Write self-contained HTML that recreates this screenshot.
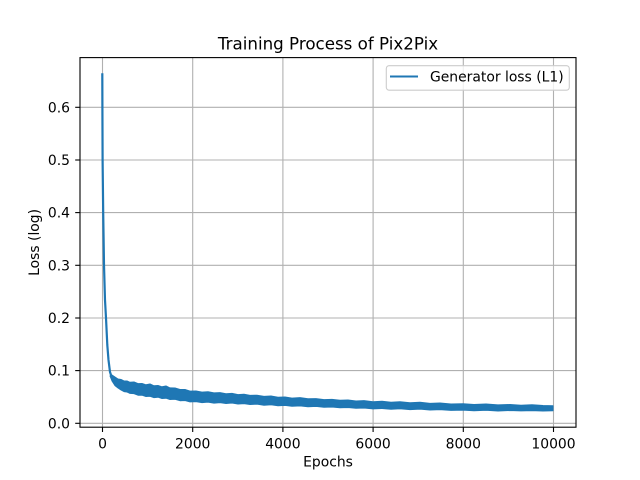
<!DOCTYPE html>
<html>
<head>
<meta charset="utf-8">
<style>
html,body{margin:0;padding:0;background:#fff;}
svg{display:block;}
text{font-family:"DejaVu Sans","Liberation Sans",sans-serif;fill:#000;}
</style>
</head>
<body>
<svg width="640" height="480" viewBox="0 0 640 480" xmlns="http://www.w3.org/2000/svg">
<rect x="0" y="0" width="640" height="480" fill="#fff"/>
<!-- grid -->
<g stroke="#b0b0b0" stroke-width="1.1">
<line x1="102.5" y1="57.6" x2="102.5" y2="427.2"/>
<line x1="192.7" y1="57.6" x2="192.7" y2="427.2"/>
<line x1="282.9" y1="57.6" x2="282.9" y2="427.2"/>
<line x1="373.1" y1="57.6" x2="373.1" y2="427.2"/>
<line x1="463.3" y1="57.6" x2="463.3" y2="427.2"/>
<line x1="553.5" y1="57.6" x2="553.5" y2="427.2"/>
<line x1="80" y1="423.3" x2="576" y2="423.3"/>
<line x1="80" y1="370.6" x2="576" y2="370.6"/>
<line x1="80" y1="318.0" x2="576" y2="318.0"/>
<line x1="80" y1="265.3" x2="576" y2="265.3"/>
<line x1="80" y1="212.6" x2="576" y2="212.6"/>
<line x1="80" y1="160.0" x2="576" y2="160.0"/>
<line x1="80" y1="107.3" x2="576" y2="107.3"/>
</g>
<!-- data -->
<polyline fill="none" stroke="#1f77b4" stroke-width="2.2" stroke-linejoin="round" points="102.3,73.3 102.4,107 102.6,160 103.2,212.6 104,265 105,300 106,318 107.3,345 108.5,360 110,372 112,378 115,382"/>
<polygon fill="#1f77b4" stroke="#1f77b4" stroke-width="1" stroke-linejoin="round" points="
112,375 115,377 118,379 121,379.5 124,381 127,381 130,382.3 134,382 138,383.6 142,383.5 146,384.8 150,384 154,385.8 158,385.5 162,386.8 166,386 170,387.9 175,388 180,389.5 185,389.5 190,391.1 196,391 202,392.1 208,391.8 214,392.9 220,392.6 226,393.8 232,393.4 238,394.6 244,394.2 250,395.4 257,395.2 264,396.4 271,396 278,397.3 285,397 292,398.1 300,397.6 308,398.8 316,398.6 324,399.6 332,399.4 340,400.3 348,400 356,401 364,400.6 373,401.7 382,401.3 391,402.2 400,401.8 410,402.8 420,402.3 430,403.4 440,403 451,404 463,403.7 474,404.5 486,404 498,404.9 510,404.5 521,405.25 532,404.8 543,405.55 553,405.7
553,410.7 543,411 532,410.6 521,410.9 510,410.5 498,411 486,410.3 474,410.7 463,410.1 451,410.4 440,409.6 430,410 420,409.15 410,409.6 400,408.8 391,409.2 382,408.45 373,408.9 364,408 356,408.3 348,407.45 340,407.8 332,406.95 324,407.3 316,406.4 308,406.8 300,405.9 292,406.3 285,405.4 278,405.8 271,404.8 264,405.2 257,404.1 250,404.5 244,403.6 238,404 232,403 226,403.5 220,402.6 214,403.1 208,402.1 202,402.6 196,401.65 190,401.9 185,400.5 180,400.7 175,399.3 170,399.5 166,398.2 162,398.5 158,397.2 154,397.6 150,396.3 146,396.5 142,395.1 138,395.2 134,393.6 130,393.4 127,392 124,391.6 121,389.9 118,388 115,385.6 112,381 110,376"/>
<!-- axes frame -->
<rect x="80" y="57.6" width="496" height="369.6" fill="none" stroke="#000" stroke-width="1.1"/>
<!-- ticks -->
<g stroke="#000" stroke-width="1.1">
<line x1="102.5" y1="427.2" x2="102.5" y2="432"/>
<line x1="192.7" y1="427.2" x2="192.7" y2="432"/>
<line x1="282.9" y1="427.2" x2="282.9" y2="432"/>
<line x1="373.1" y1="427.2" x2="373.1" y2="432"/>
<line x1="463.3" y1="427.2" x2="463.3" y2="432"/>
<line x1="553.5" y1="427.2" x2="553.5" y2="432"/>
<line x1="75.2" y1="423.3" x2="80" y2="423.3"/>
<line x1="75.2" y1="370.6" x2="80" y2="370.6"/>
<line x1="75.2" y1="318.0" x2="80" y2="318.0"/>
<line x1="75.2" y1="265.3" x2="80" y2="265.3"/>
<line x1="75.2" y1="212.6" x2="80" y2="212.6"/>
<line x1="75.2" y1="160.0" x2="80" y2="160.0"/>
<line x1="75.2" y1="107.3" x2="80" y2="107.3"/>
</g>
<g font-size="13.9" text-anchor="middle">
<text x="102.5" y="448.3">0</text>
<text x="192.7" y="448.3">2000</text>
<text x="282.9" y="448.3">4000</text>
<text x="373.1" y="448.3">6000</text>
<text x="463.3" y="448.3">8000</text>
<text x="553.5" y="448.3">10000</text>
</g>
<g font-size="13.9" text-anchor="end">
<text x="70" y="428.4">0.0</text>
<text x="70" y="375.7">0.1</text>
<text x="70" y="323.1">0.2</text>
<text x="70" y="270.4">0.3</text>
<text x="70" y="217.7">0.4</text>
<text x="70" y="165.1">0.5</text>
<text x="70" y="112.4">0.6</text>
</g>
<text x="328" y="466.5" font-size="13.9" text-anchor="middle">Epochs</text>
<text transform="translate(38.8,242.4) rotate(-90)" font-size="13.9" text-anchor="middle">Loss (log)</text>
<text x="328" y="49.3" font-size="16.7" text-anchor="middle">Training Process of Pix2Pix</text>
<!-- legend -->
<rect x="386.3" y="65.7" width="183" height="24.5" rx="2.8" ry="2.8" fill="#fff" fill-opacity="0.8" stroke="#cccccc" stroke-width="1.1"/>
<line x1="390" y1="76.5" x2="418" y2="76.5" stroke="#1f77b4" stroke-width="2.1"/>
<text x="430" y="81.6" font-size="13.9">Generator loss (L1)</text>
</svg>
</body>
</html>
